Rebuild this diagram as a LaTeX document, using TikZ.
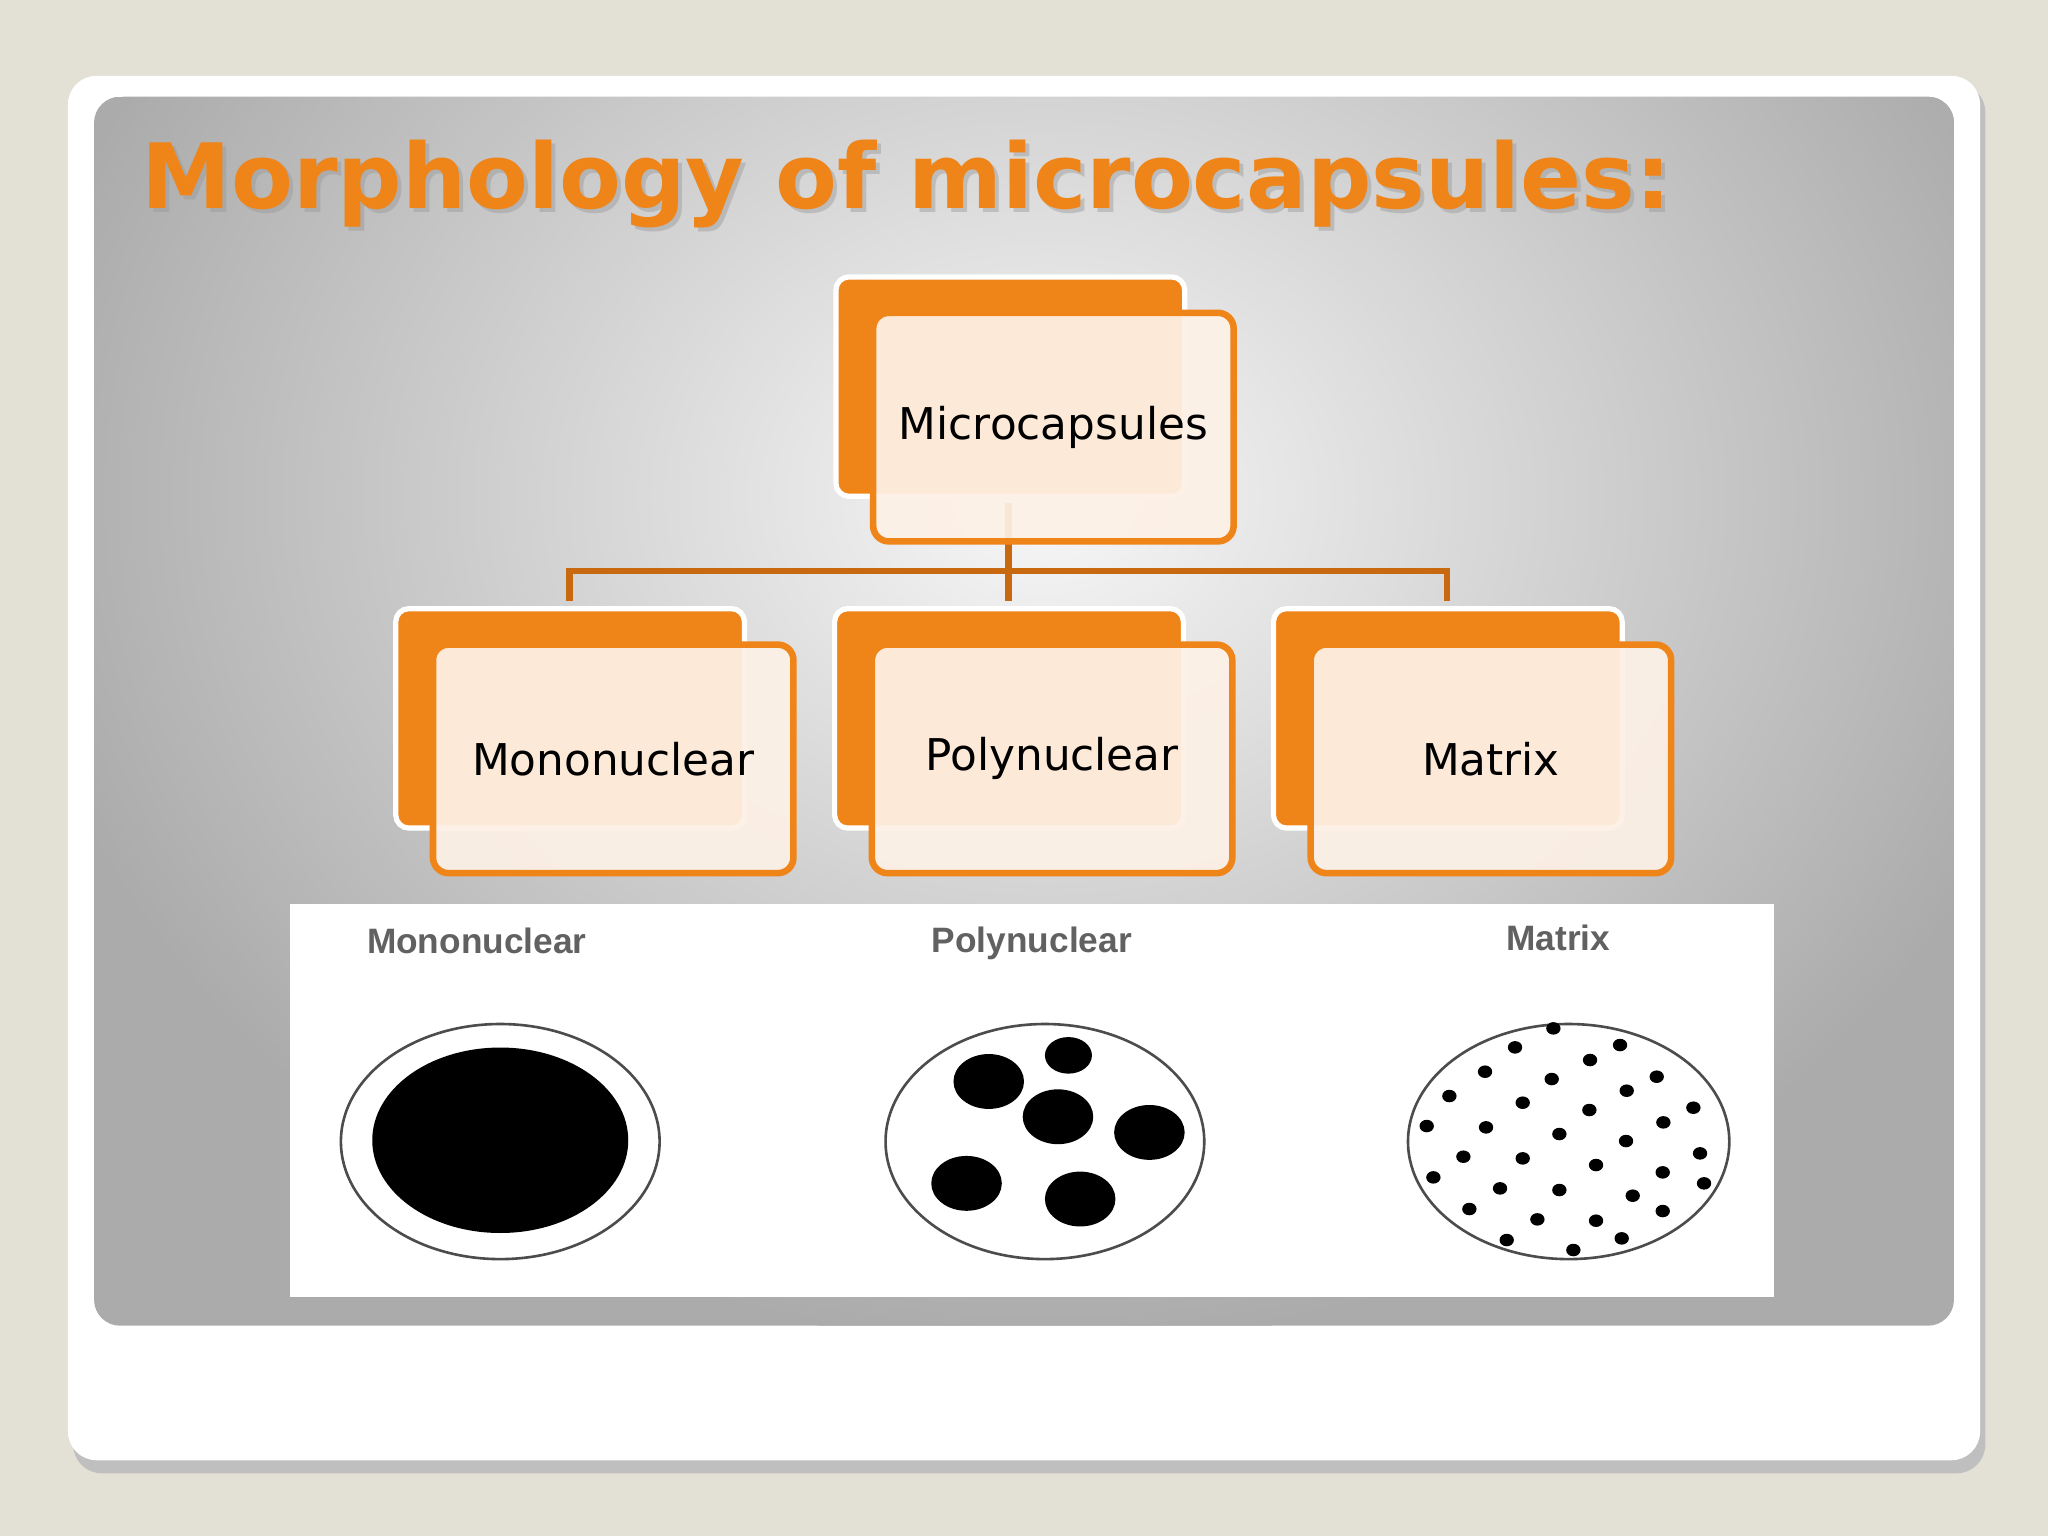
\documentclass[tikz,border=0pt]{standalone}
\usepackage{fontspec}
\setmainfont{DejaVu Sans}
\newfontfamily\lab{Liberation Sans}
\usetikzlibrary{shadows}
\definecolor{bgc}{HTML}{E3E0D5}
\definecolor{org}{HTML}{EF8419}
\definecolor{cream}{HTML}{FDF1E6}
\definecolor{conn}{HTML}{C8690F}
\tikzset{
 backbox/.style={fill=org,draw=white,line width=4pt,rounded corners=10pt},
 frontbox/.style={fill=cream,fill opacity=0.93,draw=org,line width=5pt,rounded corners=12pt,text opacity=1},
 conline/.style={draw=conn,line width=5pt},
 btxt/.style={font=\fontsize{33.5}{38}\selectfont,text=black},
 ltxt/.style={font=\lab\bfseries\fontsize{27}{31}\selectfont,text=black!62},
 ring/.style={draw=black!70,line width=2pt,fill=white},
}
\begin{document}
\begin{tikzpicture}[x=1pt,y=-1pt]
\useasboundingbox (0,0) rectangle (1568,1176);
\fill[bgc] (0,0) rectangle (1568,1176);
\fill[black!25,rounded corners=22pt] (56,64) rectangle (1520,1128);
\fill[white,rounded corners=22pt] (52,58) rectangle (1516,1118);
\begin{scope}
\clip[rounded corners=20pt] (72,74) rectangle (1496,1015);
\fill[black!33] (72,74) rectangle (1496,1015);
\shade[inner color=white!94!gray, outer color=black!33] (800,380) ellipse [x radius=800,y radius=650];
\end{scope}
% title
\node[anchor=base west,font=\bfseries\fontsize{69}{74}\selectfont,text=black!40,opacity=0.45] at (108,163) {Morphology of microcapsules:};
\node[anchor=base west,font=\bfseries\fontsize{69}{74}\selectfont,text=org] (title) at (105,160) {Morphology of microcapsules:};
% connectors
\coordinate (hj) at (772,437);
\draw[conline] (772,385) -- (hj);
\draw[conline] (436,460) |- (1108,437) -- (1108,460);
\draw[conline] (772,437) -- (772,460);
% boxes
\newcommand\mybox[4]{%
 \draw[backbox] (#1,#2) rectangle ++(267,168);
 \node[frontbox,minimum width=276pt,minimum height=175pt,anchor=north west] (#4) at (#1+26,#2+25) {};
 \node[btxt] at (#4.center) {#3};
}
\mybox{640}{212}{Microcapsules}{mc}
\mybox{303}{466}{Mononuclear}{mono}
\mybox{639}{466}{Polynuclear}{poly}
\mybox{975}{466}{Matrix}{mat}
% image panel
\fill[white] (222,692) rectangle (1358,993);
\node[ltxt] (l1) at (365,720) {Mononuclear};
\node[ltxt] (l2) at (790,722) {Polynuclear};
\node[ltxt] (l3) at (1193,718) {Matrix};
% mononuclear
\draw[ring] (383,874) ellipse [x radius=122,y radius=90];
\fill[black] (383,873) ellipse [x radius=98,y radius=71];
% polynuclear
\draw[ring] (800,874) ellipse [x radius=122,y radius=90];
\fill[black] (818,808) ellipse [x radius=18,y radius=14];
\fill[black] (757,828) ellipse [x radius=27,y radius=21];
\fill[black] (810,855) ellipse [x radius=27,y radius=21];
\fill[black] (880,867) ellipse [x radius=27,y radius=21];
\fill[black] (740,906) ellipse [x radius=27,y radius=21];
\fill[black] (827,918) ellipse [x radius=27,y radius=21];
% matrix
\draw[ring] (1201,874) ellipse [x radius=123,y radius=90];
\begin{scope}[shift={(1071.9,773.3)}]
\foreach \a/\b in {460/55,345/112,660/105,570/150,255/185,455/207,770/200,148/258,680/242,368/278,568/300,880/293,80/348,258/352,790/337,478/372,678/393,190/440,368/445,900/430,588/465,100/502,788/487,300/535,478/540,912/520,698/557,208/597,788/603,412/628,588/632,320/690,665/685,520/720}
 \fill[black] (\a*0.2552,\b*0.2552) ellipse [x radius=5.5,y radius=4.8];
\end{scope}
\end{tikzpicture}
\end{document}
